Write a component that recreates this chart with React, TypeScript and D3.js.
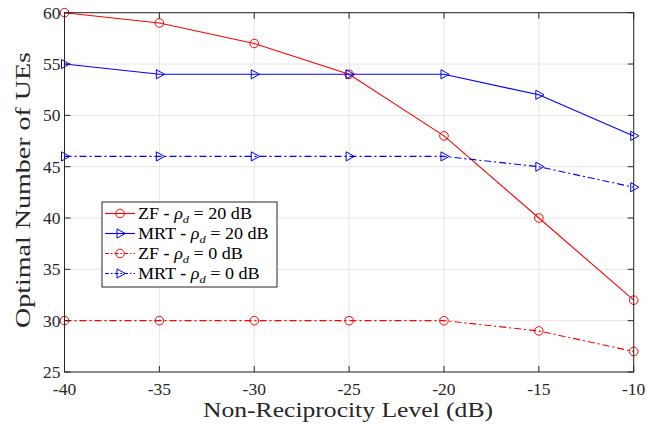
import React from "react";
import * as d3 from "d3";

const xValues = [-40, -35, -30, -25, -20, -15, -10];
const zf20 = [60, 59, 57, 54, 48, 40, 32];
const mrt20 = [55, 54, 54, 54, 54, 52, 48];
const zf0 = [30, 30, 30, 30, 30, 29, 27];
const mrt0 = [46, 46, 46, 46, 46, 45, 43];
const xTicks = [-40, -35, -30, -25, -20, -15, -10];
const yTicks = [25, 30, 35, 40, 45, 50, 55, 60];

const series = [
  { name: "ZF", rho: "20", values: zf20, color: "#ff0000", marker: "circle", dash: "" },
  { name: "MRT", rho: "20", values: mrt20, color: "#0000ff", marker: "tri", dash: "" },
  { name: "ZF", rho: "0", values: zf0, color: "#ff0000", marker: "circle", dash: "7,3,2,3" },
  { name: "MRT", rho: "0", values: mrt0, color: "#0000ff", marker: "tri", dash: "7,3,2,3" },
];

const W = 647, H = 426;
const L = 64.5, R = 633.7, T = 12.7, B = 372;
const font = "'Liberation Serif', 'DejaVu Serif', serif";

function Marker({ type, x, y, color }: { type: string; x: number; y: number; color: string }) {
  if (type === "circle") return <circle cx={x} cy={y} r={4.3} fill="none" stroke={color} strokeWidth={1} />;
  return <path d={`M${x - 3},${y - 4.6} L${x + 5.2},${y} L${x - 3},${y + 4.6} Z`} fill="none" stroke={color} strokeWidth={1} />;
}

export default function App() {
  const x = d3.scaleLinear().domain([-40, -10]).range([L, R]);
  const y = d3.scaleLinear().domain([25, 60]).range([B, T]);
  const line = d3.line<number>().x((_, i) => x(xValues[i])).y((d) => y(d));
  const axisColor = "#262626";
  const lx = 102, ly = 202, lw = 175, lh = 85;
  return (
    <svg width={W} height={H} style={{ position: "absolute", left: 0, top: 0 }}>
      <rect width={W} height={H} fill="#fff" />
      {xTicks.map((t) => (
        <line key={"gx" + t} x1={x(t)} x2={x(t)} y1={T} y2={B} stroke="#e5e5e5" strokeWidth={1} />
      ))}
      {yTicks.map((t) => (
        <line key={"gy" + t} x1={L} x2={R} y1={y(t)} y2={y(t)} stroke="#e5e5e5" strokeWidth={1} />
      ))}
      {series.map((s, k) => (
        <g key={k}>
          <path d={line(s.values) || ""} fill="none" stroke={s.color} strokeWidth={1.1} strokeDasharray={s.dash} />
          {s.values.map((v, i) => (
            <Marker key={i} type={s.marker} x={x(xValues[i])} y={y(v)} color={s.color} />
          ))}
        </g>
      ))}
      <rect x={L} y={T} width={R - L} height={B - T} fill="none" stroke={axisColor} strokeWidth={1} />
      {xTicks.map((t) => (
        <g key={"tx" + t}>
          <line x1={x(t)} x2={x(t)} y1={B} y2={B - 6} stroke={axisColor} />
          <line x1={x(t)} x2={x(t)} y1={T} y2={T + 6} stroke={axisColor} />
          <text x={x(t)} y={395} textAnchor="middle" fontFamily={font} fontSize={17.5} fill={axisColor}>{t}</text>
        </g>
      ))}
      {yTicks.map((t) => (
        <g key={"ty" + t}>
          <line x1={L} x2={L + 6} y1={y(t)} y2={y(t)} stroke={axisColor} />
          <line x1={R} x2={R - 6} y1={y(t)} y2={y(t)} stroke={axisColor} />
          <text x={L - 4} y={y(t) + 6} textAnchor="end" fontFamily={font} fontSize={17.5} fill={axisColor}>{t}</text>
        </g>
      ))}
      <text x={203} y={417} textLength={290} lengthAdjust="spacingAndGlyphs" fontFamily={font} fontSize={21} fill={axisColor}>Non-Reciprocity Level (dB)</text>
      <text transform={`translate(29.5,328) rotate(-90)`} textLength={276} lengthAdjust="spacingAndGlyphs" fontFamily={font} fontSize={21} fill={axisColor}>Optimal Number of UEs</text>
      <rect x={lx} y={ly} width={lw} height={lh} fill="#fff" stroke={axisColor} strokeWidth={1} />
      {series.map((s, k) => {
        const cy = ly + 11.5 + k * 20;
        return (
          <g key={"lg" + k}>
            <line x1={lx + 3} x2={lx + 33} y1={cy} y2={cy} stroke={s.color} strokeWidth={1.1} strokeDasharray={s.dash ? "4,2,1.5,2" : ""} />
            <Marker type={s.marker} x={lx + 18} y={cy} color={s.color} />
            <g transform={`translate(${lx + 36},${cy + 5.5}) scale(1.13,1)`}>
              <text x={0} y={0} fontFamily={font} fontSize={16} fill="#000">
                {s.name} <tspan fontWeight="bold">-</tspan> <tspan fontStyle="italic">ρ</tspan><tspan fontStyle="italic" fontSize={11} dy={4}>d</tspan><tspan dy={-4}> = {s.rho} dB</tspan>
              </text>
            </g>
          </g>
        );
      })}
    </svg>
  );
}
